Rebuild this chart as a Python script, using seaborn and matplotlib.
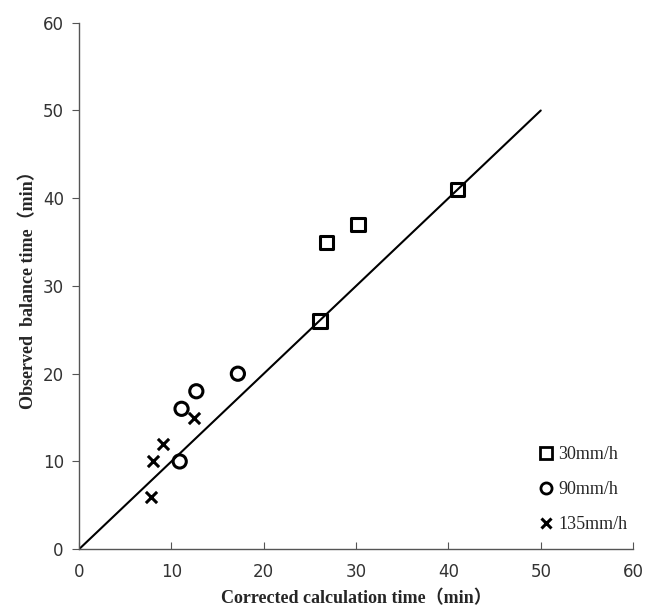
import pandas as pd
import numpy as np
import matplotlib.pyplot as plt
import seaborn as sns
from matplotlib.lines import Line2D

# data
rates = ['30mm/h', '90mm/h', '135mm/h']
x_30 = [26.1, 26.8, 30.2, 41.0]
y_30 = [26.0, 35.0, 37.0, 41.0]
x_90 = [10.9, 11.1, 12.7, 17.2]
y_90 = [10.0, 16.0, 18.0, 20.0]
x_135 = [7.8, 8.0, 9.1, 12.5]
y_135 = [6.0, 10.0, 12.0, 15.0]
line_x = [0, 50]
line_y = [0, 50]
ticks = [0, 10, 20, 30, 40, 50, 60]

df = pd.DataFrame({
    'x': x_30 + x_90 + x_135,
    'y': y_30 + y_90 + y_135,
    'rate': [rates[0]] * len(x_30) + [rates[1]] * len(x_90) + [rates[2]] * len(x_135),
})

sns.set_style('white')
plt.rcParams['font.family'] = ['DejaVu Sans']

f = plt.figure(figsize=(6.48, 6.15), dpi=100)
ax = f.add_axes([0.122, 0.107, 0.855, 0.856])

ax.plot(line_x, line_y, color='black', lw=1.5, zorder=1)

markers = {'30mm/h': 's', '90mm/h': 'o', '135mm/h': 'x'}
for r in rates:
    sub = df[df['rate'] == r]
    if markers[r] == 'x':
        ax.scatter(sub['x'], sub['y'], marker='x', s=65, color='black', linewidths=2.2, zorder=3)
    else:
        ax.scatter(sub['x'], sub['y'], marker=markers[r], s=90, facecolors='none',
                   edgecolors='black', linewidths=2.2, zorder=3)

ax.set_xlim(0, 60)
ax.set_ylim(0, 60)
ax.set_xticks(ticks)
ax.set_yticks(ticks)
for sp in ['top', 'right']:
    ax.spines[sp].set_visible(False)
for sp in ['left', 'bottom']:
    ax.spines[sp].set_color('#555555')
    ax.spines[sp].set_linewidth(1.0)
ax.tick_params(axis='x', direction='in', length=5, color='#555555', labelsize=12,
               labelcolor='#333333', pad=10, bottom=True)
ax.tick_params(axis='y', direction='out', length=5, color='#555555', labelsize=12,
               labelcolor='#333333', pad=6, left=True)

ax.set_xlabel('Corrected calculation time\uff08min\uff09', family=['Liberation Serif', 'Noto Sans CJK SC'],
              fontweight='bold', fontsize=13, labelpad=6)
ax.set_ylabel('Observed  balance time\uff08min\uff09', family=['Liberation Serif', 'Noto Sans CJK SC'],
              fontweight='bold', fontsize=13, labelpad=4)

handles = [
    Line2D([], [], marker='s', ls='none', mfc='none', mec='black', mew=2, ms=8),
    Line2D([], [], marker='o', ls='none', mfc='none', mec='black', mew=2, ms=8),
    Line2D([], [], marker='x', ls='none', color='black', mew=2.2, ms=7),
]
leg = ax.legend(handles, rates, loc='lower left', bbox_to_anchor=(0.80, 0.0),
                frameon=False, handlelength=0.8, handletextpad=0.3, labelspacing=1.0,
                prop={'family': 'Liberation Serif', 'size': 13})

f.savefig('out.png', dpi=100)
